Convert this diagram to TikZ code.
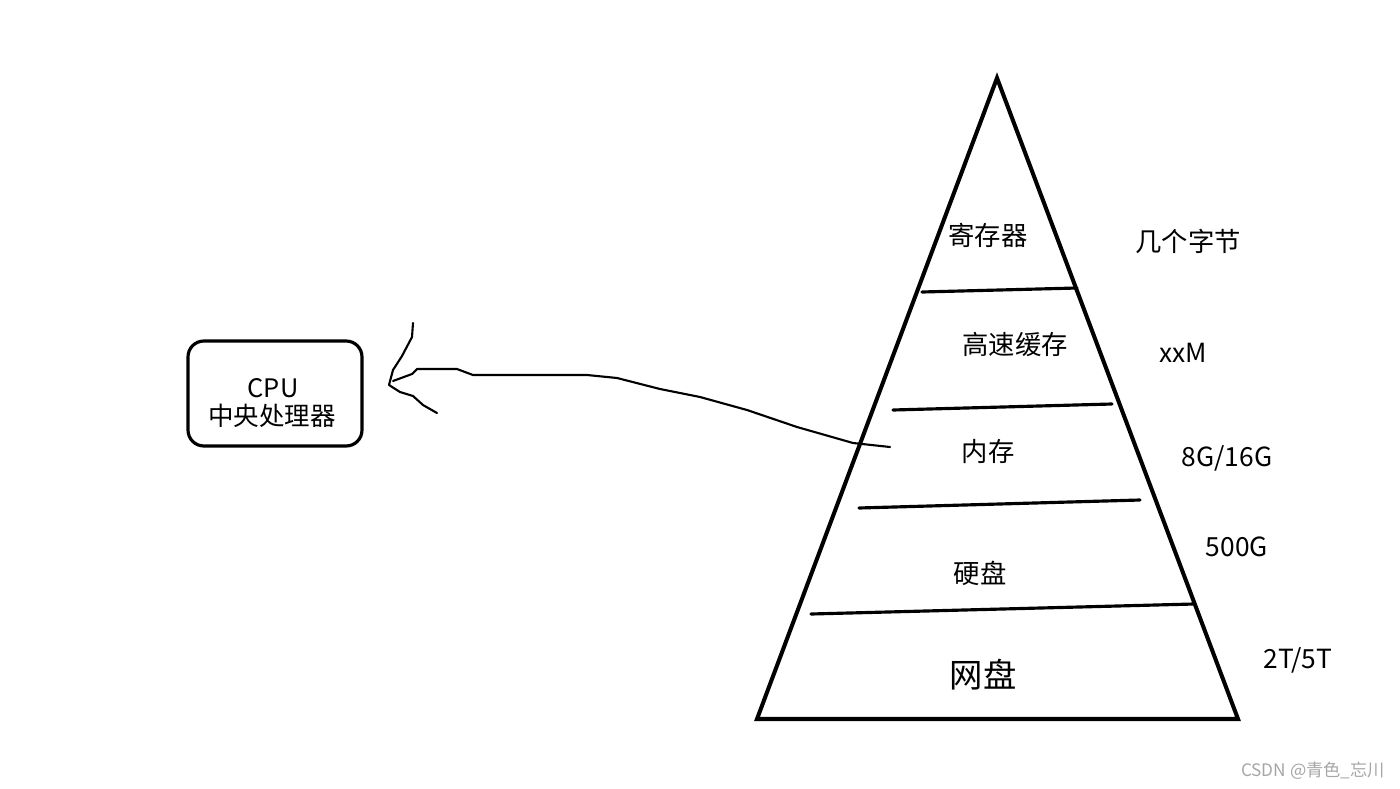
\documentclass[tikz,border=0pt]{standalone}
\usepackage{fontspec}
\newfontfamily\cjk{Noto Sans CJK SC}
\usepackage{tikz}
\usetikzlibrary{positioning, calc}
\tikzset{
  layer/.style={font=\cjk\fontsize{15}{18}\selectfont, inner sep=1pt},
  size/.style={font=\cjk\fontsize{15}{18}\selectfont, inner sep=1pt},
  divider/.style={line width=1.8pt, line cap=round},
  pyramid/.style={line width=2.3pt, line join=miter},
  cpubox/.style={rectangle, draw, line width=1.8pt, rounded corners=9pt,
    minimum width=3.48cm, minimum height=2.1cm},
  cputext/.style={font=\cjk\fontsize{14.5}{16}\selectfont, inner sep=0pt},
  hand/.style={line width=1.2pt, line join=round, line cap=round},
}

\begin{document}
\begin{tikzpicture}[x=0.02cm, y=-0.02cm]
\useasboundingbox (0,0) rectangle (1400,788);

% Pyramid
\coordinate (apex) at (997,78);
\coordinate (bl) at (757,719);
\coordinate (br) at (1238,719);
\draw[pyramid] (apex) -- (bl) -- (br) -- cycle;

% Dividers
\draw[divider] (922,292) -- (1077,288);
\draw[divider] (893,410) -- (1112,404);
\draw[divider] (859,508) -- (1140,500);
\draw[divider] (811,614) -- (1194,604);

% Layers
\node[layer] (reg) at (988,235) {寄存器};
\node[layer] (cache) at (1015,344) {高速缓存};
\node[layer] (mem) at (988,452) {内存};
\node[layer] (disk) at (980,573) {硬盘};
\node[layer, font=\cjk\fontsize{19}{22}\selectfont] (net) at (983,675) {网盘};

% Sizes
\node[size] (sreg) at (1188,241) {几个字节};
\node[size] (scache) at (1183,353) {xxM};
\node[size] (smem) at (1227,458) {8G/16G};
\node[size] (sdisk) at (1237,547) {500G};
\node[size] (snet) at (1298,660) {2T/5T};

% CPU
\node[cpubox] (cpu) at (275,393.5) {};
\node[cputext] (cpuname) at (273,388) {CPU};
\node[cputext] (cpucn) at (272,416) {中央处理器};

% Hand drawn arrow
\coordinate (from) at (890,447);
\coordinate (tip) at (389,385);
\draw[hand] (from) -- (853,443) -- (797,427) -- (747,410) -- (700,397) -- (660,389)
  -- (617,378) -- (587,375) -- (473,375) -- (457,369) -- (417,369) -- (412,374)
  -- (393,381);
\draw[hand] (413,323) -- (412,337) -- (402,356) -- (393,370) -- (tip)
  -- (400,392) -- (413,396) -- (423,405) -- (437,413);

% Watermark
\node[font=\cjk\fontsize{9.8}{11}\selectfont, text=gray!70] (mark) at (1313,771) {CSDN @青色\_忘川};
\end{tikzpicture}
\end{document}
